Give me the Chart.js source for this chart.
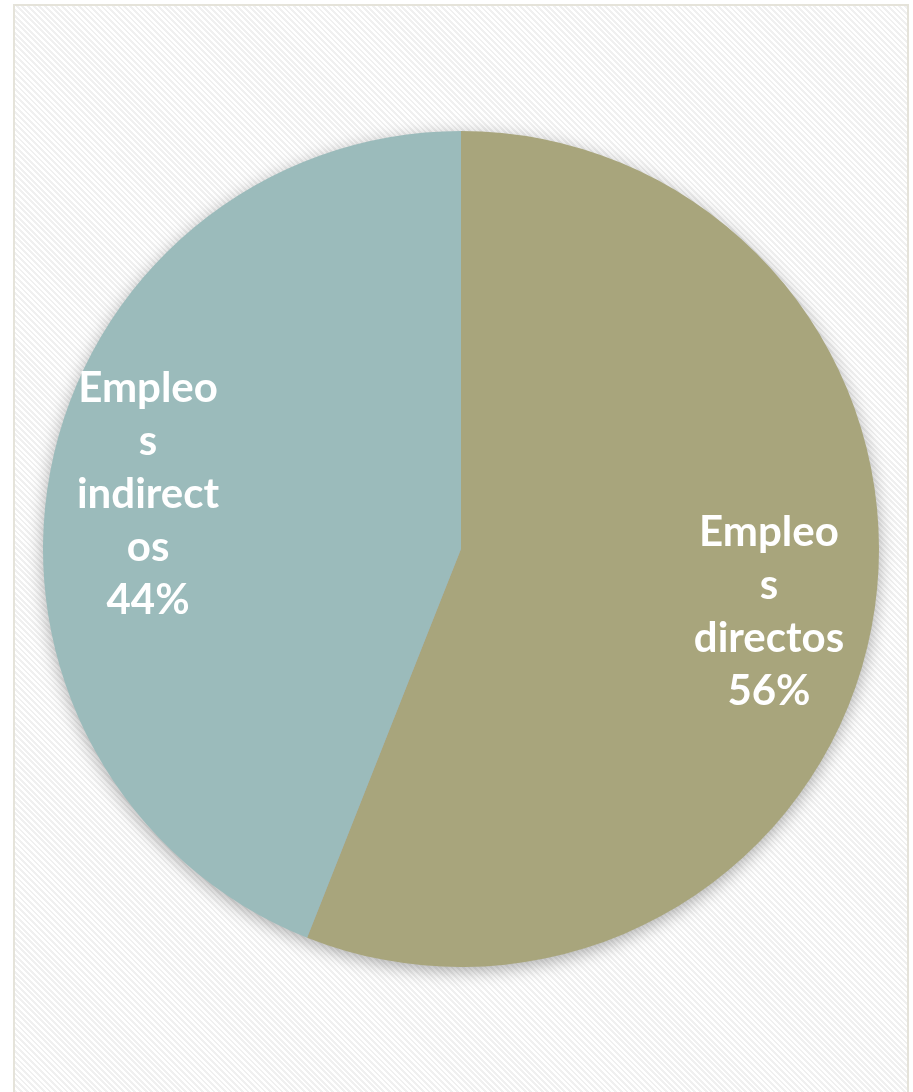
<!DOCTYPE html>
<html>
<head>
<meta charset="utf-8">
<script src="https://cdn.jsdelivr.net/npm/chart.js@4"></script>
<style>
  html, body { margin: 0; padding: 0; background: #fff; width: 913px; height: 1092px; overflow: hidden; }
  #frame {
    position: absolute; left: 13px; top: 4px; width: 892px; height: 1100px;
    border: 2px solid #e5e3da;
    background: repeating-linear-gradient(45deg, #ffffff 0 2px, #f0f0f0 2px 4px);
  }
  #wrap { position: absolute; left: 0; top: 0; width: 913px; height: 1092px; }
</style>
</head>
<body>
<div id="frame"></div>
<div id="wrap"><canvas id="pieChart"></canvas></div>
<script>
// Data
const categories = ["Empleos directos", "Empleos indirectos"];
const values = [56, 44];
const percentLabels = ["56%", "44%"];
// label text as it wraps in the original
const labelLines = [
  ["Empleo", "s", "directos"],
  ["Empleo", "s", "indirect", "os"],
];
const colors = ["#a8a57c", "#9bbbbb"];

// soft drop shadow behind the pie
const pieShadow = {
  id: "pieShadow",
  beforeDatasetsDraw(chart) {
    const arc = chart.getDatasetMeta(0).data[0];
    if (!arc) return;
    const { x, y, outerRadius } = arc.getProps(["x", "y", "outerRadius"], true);
    const ctx = chart.ctx;
    ctx.save();
    ctx.shadowColor = "rgba(0,0,0,0.35)";
    ctx.shadowBlur = 18;
    ctx.shadowOffsetY = 4;
    ctx.fillStyle = "#aaa";
    ctx.beginPath();
    ctx.arc(x, y, outerRadius - 1, 0, Math.PI * 2);
    ctx.fill();
    ctx.restore();
  },
};

// data labels inside slices
const sliceLabels = {
  id: "sliceLabels",
  afterDatasetsDraw(chart) {
    const ctx = chart.ctx;
    const meta = chart.getDatasetMeta(0);
    ctx.save();
    ctx.fillStyle = "#ffffff";
    ctx.font = "bold 42px Lato, 'DejaVu Sans', sans-serif";
    ctx.textAlign = "center";
    ctx.textBaseline = "middle";
    meta.data.forEach((arc, i) => {
      const p = arc.getProps(["x", "y", "startAngle", "endAngle", "outerRadius"], true);
      const mid = (p.startAngle + p.endAngle) / 2;
      const r = p.outerRadius * 0.75;
      const cx = p.x + Math.cos(mid) * r + (i === 1 ? -5 : 0);
      const cy = p.y + Math.sin(mid) * r + 4;
      const lines = labelLines[i].concat([percentLabels[i]]);
      const lh = 53;
      const top = cy - (lh * (lines.length - 1)) / 2;
      lines.forEach((t, k) => ctx.fillText(t, cx, top + k * lh));
    });
    ctx.restore();
  },
};

const ctx = document.getElementById("pieChart").getContext("2d");
const chart = new Chart(ctx, {
  type: "pie",
  data: {
    labels: categories,
    datasets: [
      {
        data: values,
        backgroundColor: colors,
        borderWidth: 0,
      },
    ],
  },
  options: {
    responsive: true,
    maintainAspectRatio: false,
    animation: false,
    layout: {
      padding: { left: 43, right: 34, top: 131, bottom: 125 },
    },
    plugins: {
      legend: { display: false },
      tooltip: { enabled: false },
    },
  },
  plugins: [pieShadow, sliceLabels],
});
</script>
</body>
</html>
